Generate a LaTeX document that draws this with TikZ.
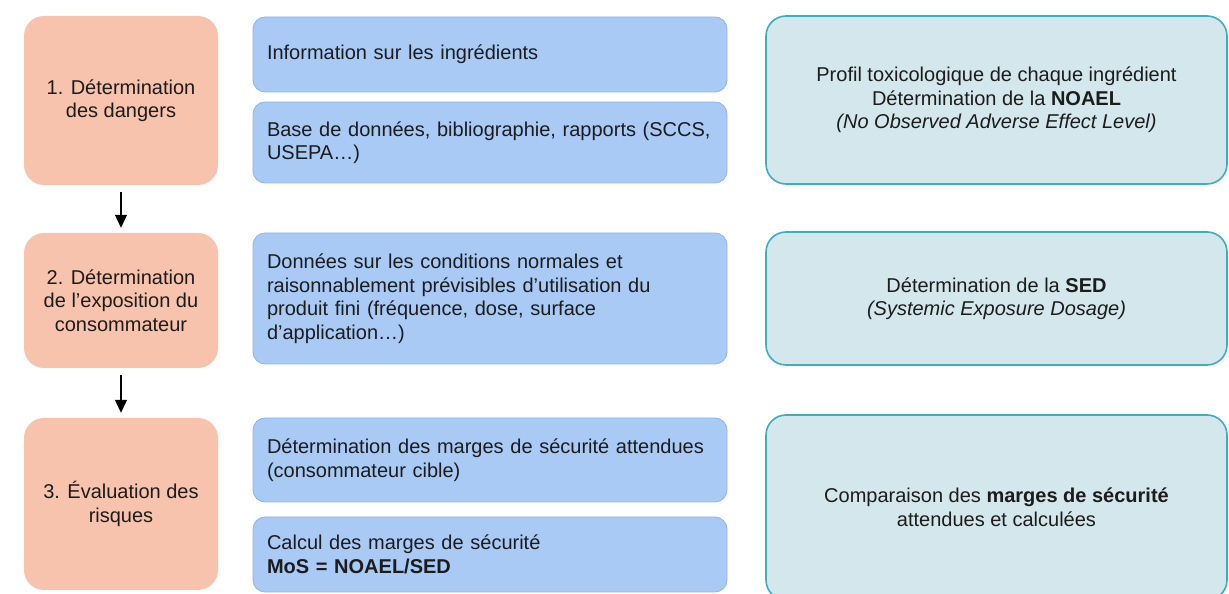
\documentclass[tikz,border=0pt]{standalone}
\usepackage{fontspec}
\setmainfont{Liberation Sans}
\usetikzlibrary{arrows.meta}
\definecolor{stepfill}{HTML}{F8C3AC}
\definecolor{infofill}{HTML}{A8CAF4}
\definecolor{infodraw}{HTML}{8DB5EC}
\definecolor{resfill}{HTML}{D3E7EC}
\definecolor{resdraw}{HTML}{3BAEBF}
\definecolor{ink}{HTML}{1C1C1C}
\begin{document}
\begin{tikzpicture}[x=1pt,y=1pt,
  every node/.style={font=\fontsize{20}{23.5}\selectfont, text=ink},
  stepbox/.style={fill=stepfill, draw=none, rounded corners=20pt,
    minimum width=194pt, align=center, inner sep=0pt},
  infobox/.style={fill=infofill, draw=infodraw, line width=0.8pt, rounded corners=12pt,
    minimum width=474pt, text width=446pt, align=left, inner sep=0pt},
  resbox/.style={fill=resfill, draw=resdraw, line width=1.6pt, rounded corners=20pt,
    minimum width=461pt, align=center, inner sep=0pt},
  flow/.style={-{Triangle[length=13pt,width=12pt]}, line width=1.1pt, black,
    shorten <=7pt, shorten >=5pt}
]
\useasboundingbox (0,0) rectangle (1229,594);
\clip (0,0) rectangle (1229,594);

% steps of the assessment
\node[stepbox, minimum height=169pt] (s1) at (121,493.5) {1. Détermination\\des dangers};
\node[stepbox, minimum height=135pt] (s2) at (121,293.5) {2. Détermination\\de l’exposition du\\consommateur};
\node[stepbox, minimum height=172pt] (s3) at (121,90) {3. Évaluation des\\risques};

\draw[flow] (s1.south) -- (s2.north);
\draw[flow] (s2.south) -- (s3.north);

% input data
\node[infobox, minimum height=75pt] (i1) at (490,539.5) {Information sur les ingrédients};
\node[infobox, minimum height=81pt] (i2) at (490,451.5) {Base de données, bibliographie, rapports (SCCS,\\USEPA…)};
\node[infobox, minimum height=131pt] (i3) at (490,295.5) {Données sur les conditions normales et\\raisonnablement prévisibles d’utilisation du\\produit fini (fréquence, dose, surface\\d’application…)};
\node[infobox, minimum height=84pt] (i4) at (490,134) {Détermination des marges de sécurité attendues\\(consommateur cible)};
\node[infobox, minimum height=75pt] (i5) at (490,39.5) {Calcul des marges de sécurité\\\textbf{MoS = NOAEL/SED}};

% results
\node[resbox, minimum height=168pt] (r1) at (996.5,494) {Profil toxicologique de chaque ingrédient\\Détermination de la \textbf{NOAEL}\\\textit{(No Observed Adverse Effect Level)}};
\node[resbox, minimum height=133pt] (r2) at (996.5,295.5) {Détermination de la \textbf{SED}\\\textit{(Systemic Exposure Dosage)}};
\node[resbox, minimum height=185pt] (r3) at (996.5,86.5) {Comparaison des \textbf{marges de sécurité}\\attendues et calculées};
\end{tikzpicture}
\end{document}
